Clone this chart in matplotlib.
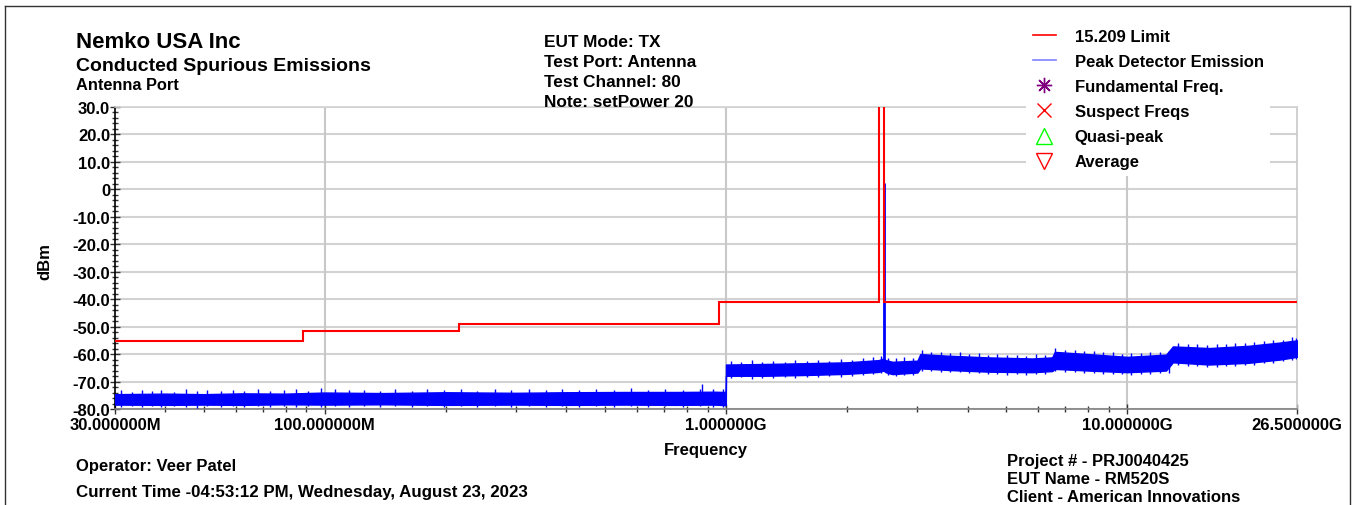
import numpy as np
import matplotlib
matplotlib.use('Agg')
import matplotlib.pyplot as plt
from matplotlib.lines import Line2D
from matplotlib.ticker import FixedLocator, NullFormatter

plt.rcParams['font.family'] = ['Liberation Sans', 'DejaVu Sans']
plt.rcParams['font.weight'] = 'bold'

# 15.209 limit (dBm), stepped; the restricted band goes off the top of the chart
limit_edges_mhz = [30, 88, 216, 960, 2400, 2483.5, 26500]
limit_dbm = [-55.2, -51.7, -49.2, -41.2, 200, -41.2]

# peak detector sweep, read as an upper / lower envelope of the noise band
sweep_mhz = [30, 40, 50, 62, 80, 100, 140, 200, 300, 400, 560, 750, 930, 999,
             1000, 1250, 1600, 2000, 2400, 2470, 2500, 2600, 3000, 3050, 3600,
             4500, 5800, 6500, 6600, 8000, 10000, 12500, 13000, 16000, 20000,
             24000, 26500]
sweep_upper = [-74.6, -74.4, -74.6, -74.3, -74.4, -74.0, -74.2, -73.9, -74.1, -73.9,
               -73.8, -73.8, -73.7, -73.8,
               -63.8, -63.6, -63.3, -63.0, -62.2, -61.6, -62.2, -62.8, -62.4, -60.0,
               -60.6, -61.2, -61.6, -61.2, -59.2, -60.0, -61.0, -60.2, -57.2, -57.8,
               -57.0, -55.8, -55.0]
sweep_lower = [-78.4, -78.5, -78.4, -78.5, -78.3, -78.4, -78.3, -78.5, -78.4, -78.5,
               -78.4, -78.5, -78.4, -78.6,
               -67.9, -67.9, -67.6, -67.2, -66.5, -66.0, -66.6, -67.3, -66.7, -65.2,
               -65.8, -66.4, -66.6, -66.2, -65.4, -66.0, -66.6, -66.0, -63.0, -63.8,
               -63.2, -62.0, -61.0]

# individual sweep excursions (min / max) that roughen the band edges
spike_mhz = [31, 33, 35, 37, 39, 42, 45, 48, 51, 55, 59, 63, 68, 73, 79, 85, 91, 98,
             106, 115, 125, 137, 150, 165, 180, 198, 218, 240, 265, 292, 322, 355,
             390, 430, 475, 525, 580, 640, 705, 780, 860, 873, 930, 985,
             1030, 1090, 1160, 1230, 1310, 1400, 1490, 1590, 1700, 1810, 1930, 2060,
             2200, 2330, 2440, 2530, 2650, 2780, 2920, 3080, 3250, 3430, 3620, 3820,
             4030, 4260, 4500, 4750, 5020, 5300, 5600, 5920, 6250, 6620, 7000, 7400,
             7800, 8250, 8700, 9200, 9700, 10250, 10800, 11400, 12050, 12700, 13400,
             14150, 14950, 15800, 16700, 17600, 18600, 19650, 20750, 21900, 23100,
             24400, 25700, 26300]
spike_hi = [-73.2, -73.8, -72.9, -73.6, -73.1, -73.7, -72.8, -73.5, -73.0, -73.6,
            -72.9, -73.4, -72.6, -73.5, -73.0, -72.7, -73.3, -72.5, -72.6, -73.2,
            -72.9, -73.4, -72.8, -73.3, -72.7, -73.2, -72.8, -73.3, -72.6, -73.1,
            -72.8, -73.2, -72.6, -73.0, -72.7, -73.1, -72.5, -73.0, -72.6, -72.9,
            -72.7, -70.9, -72.8, -72.6,
            -62.6, -63.0, -62.3, -62.9, -62.4, -62.8, -62.1, -62.6, -62.0, -62.4,
            -61.8, -62.2, -61.4, -61.2, -60.6, -61.3, -61.6, -61.2, -61.5, -58.6,
            -59.1, -59.2, -59.7, -59.4, -59.9, -59.7, -60.2, -60.0, -60.5, -60.2,
            -60.6, -60.1, -60.4, -57.9, -58.5, -58.4, -58.9, -58.8, -59.3, -59.4,
            -59.9, -59.6, -59.5, -59.1, -59.3, -58.9, -56.0, -56.5, -56.3, -56.8,
            -56.4, -56.5, -56.0, -56.0, -55.5, -55.4, -54.7, -54.7, -53.9, -54.0]
spike_lo = [-79.2, -78.8, -79.4, -78.9, -79.3, -78.9, -79.2, -79.5, -78.9, -79.3,
            -79.0, -79.4, -78.9, -79.2, -79.0, -79.4, -78.9, -79.2, -79.0, -79.3,
            -78.9, -79.2, -79.0, -79.4, -78.9, -79.2, -79.0, -79.3, -78.9, -79.1,
            -79.0, -79.3, -78.9, -79.2, -79.0, -79.3, -78.9, -79.2, -79.0, -79.4,
            -79.0, -78.0, -79.2, -79.1,
            -68.8, -68.5, -68.9, -68.6, -68.8, -68.4, -68.7, -68.3, -68.5, -68.1,
            -68.3, -67.8, -67.7, -67.3, -67.0, -67.6, -68.0, -67.7, -67.6, -66.0,
            -66.3, -66.4, -66.7, -66.6, -67.0, -66.9, -67.3, -67.2, -67.5, -67.3,
            -67.5, -67.2, -67.3, -66.2, -66.5, -66.6, -66.8, -66.9, -67.1, -67.2,
            -67.4, -67.5, -67.2, -67.1, -66.9, -66.9, -64.0, -64.2, -64.5, -64.6,
            -64.6, -64.3, -64.2, -63.9, -63.8, -63.4, -63.1, -62.6, -62.2, -61.9]

# fundamental
peak_mhz = 2480
peak_dbm = 2.3
peak_base_dbm = -63.0

xtick_mhz = [30, 100, 1000, 10000, 26500]
xtick_labels = ['30.000000M', '100.000000M', '1.000000G', '10.000000G', '26.500000G']
ytick_vals = [30, 20, 10, 0, -10, -20, -30, -40, -50, -60, -70, -80]
ytick_labels = ['30.0', '20.0', '10.0', '0', '-10.0', '-20.0', '-30.0', '-40.0',
                '-50.0', '-60.0', '-70.0', '-80.0']

W, H = 1356, 506
fig = plt.figure(figsize=(W / 100, H / 100), dpi=100)


def px(x, y):
    return x / W, 1 - y / H


ax = fig.add_axes([115 / W, 1 - 410 / H, (1297 - 115) / W, (410 - 108) / H])

hz = 1e6
blue = '#0000ff'
ax.fill_between(np.array(sweep_mhz) * hz, sweep_lower, sweep_upper, color=blue,
                lw=1.0, zorder=3)
ax.vlines(np.array(spike_mhz) * hz, spike_lo, spike_hi, color=blue, lw=1.0, zorder=3)
ax.vlines(peak_mhz * hz, peak_base_dbm, peak_dbm, color=blue, lw=2, zorder=3)
ax.stairs(limit_dbm, np.array(limit_edges_mhz) * hz, baseline=None,
          color='#ff0000', lw=1.5, zorder=4)

ax.set_xscale('log')
ax.set_xlim(30 * hz, 26500 * hz)
ax.set_ylim(-80, 30)

ax.set_xticks(np.array(xtick_mhz) * hz)
ax.set_xticklabels(xtick_labels, fontsize=12, fontweight='bold')
minors = [m * d for d in (1e7, 1e8, 1e9) for m in range(2, 10)]
minors = [v for v in minors if 30 * hz < v < 26500 * hz]
ax.xaxis.set_minor_locator(FixedLocator(minors))
ax.xaxis.set_minor_formatter(NullFormatter())

ax.set_yticks(ytick_vals)
ax.set_yticklabels(ytick_labels, fontsize=12, fontweight='bold')
ax.yaxis.set_minor_locator(FixedLocator(np.arange(-80, 31, 2)))

ax.tick_params(axis='both', which='major', direction='inout', length=7, width=1, color='#333333')
ax.tick_params(axis='both', which='minor', direction='inout', length=5, width=1, color='#333333')
ax.tick_params(axis='x', pad=2)
ax.tick_params(axis='y', pad=0)

for y in ytick_vals:
    ax.axhline(y, color='#d2d2d2', lw=1.5, zorder=1)
for x in (100, 1000, 10000):
    ax.axvline(x * hz, color='#c8c8c8', lw=1.5, zorder=1)

ax.spines['left'].set_color('black')
ax.spines['bottom'].set_color('#808080')
ax.spines['right'].set_color('#c8c8c8')
ax.spines['top'].set_color('#d2d2d2')
for s in ax.spines.values():
    s.set_linewidth(1.2)

# titles / header
fig.text(*px(76, 42), 'Nemko USA Inc', fontsize=16, va='center')
fig.text(*px(76, 66.5), 'Conducted Spurious Emissions', fontsize=14, va='center')
fig.text(*px(76, 86), 'Antenna Port', fontsize=11.8, va='center')
for i, t in enumerate(['EUT Mode: TX', 'Test Port: Antenna', 'Test Channel: 80',
                       'Note: setPower 20']):
    fig.text(*px(544, 42.5 + 20 * i), t, fontsize=12.4, va='center')

fig.text(*px(45, 262), 'dBm', fontsize=12, rotation=90, va='center', ha='center')
fig.text(*px(706, 451), 'Frequency', fontsize=12, va='center', ha='center')

fig.text(*px(76, 467), 'Operator: Veer Patel', fontsize=12, va='center')
fig.text(*px(76, 493), 'Current Time -04:53:12 PM, Wednesday, August 23, 2023',
         fontsize=12.2, va='center')
for i, t in enumerate(['Project # - PRJ0040425', 'EUT Name - RM520S',
                       'Client - American Innovations']):
    fig.text(*px(1007, 462 + 18 * i), t, fontsize=12, va='center')

# legend
handles = [
    Line2D([], [], color='#ff0000', lw=1.2),
    Line2D([], [], color='#8080ff', lw=1.2),
    Line2D([], [], ls='none', marker=(8, 2, 0), ms=11, mec='#800080', mew=1),
    Line2D([], [], ls='none', marker='x', ms=10, mec='#ff0000', mew=1),
    Line2D([], [], ls='none', marker='^', ms=11, mfc='none', mec='#00ff00', mew=1),
    Line2D([], [], ls='none', marker='v', ms=11, mfc='none', mec='#ff0000', mew=1),
]
labels = ['15.209 Limit', 'Peak Detector Emission', 'Fundamental Freq.',
          'Suspect Freqs', 'Quasi-peak', 'Average']
leg = fig.legend(handles, labels, loc='upper left', bbox_to_anchor=px(1026, 23),
                 frameon=True, fancybox=False, edgecolor='none', facecolor='white',
                 framealpha=1, fontsize=12, handlelength=1.38, handletextpad=1.14,
                 labelspacing=0.61, borderpad=0.4, borderaxespad=0)
leg.set_zorder(10)

# outer frame
for xs, ys in [((5, 5), (7, 506)), ((5, 1350), (7, 7)), ((1350, 1350), (7, 506))]:
    fig.add_artist(Line2D([x / W for x in xs], [1 - y / H for y in ys],
                          color='#333333', lw=1))

fig.savefig('out.png', dpi=100)
